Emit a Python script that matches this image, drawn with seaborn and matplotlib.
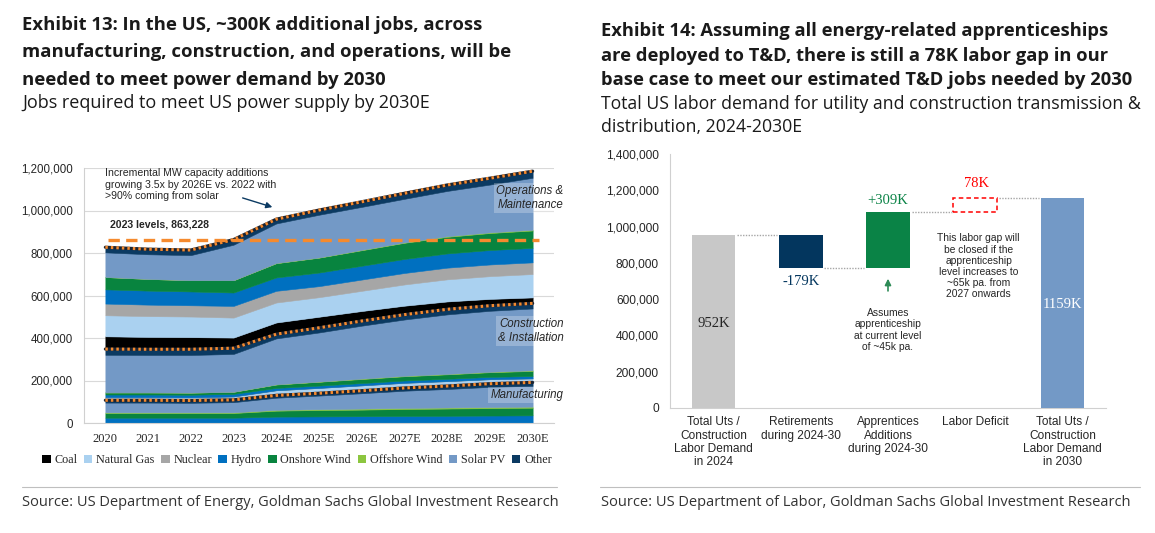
import numpy as np
import pandas as pd
import matplotlib
matplotlib.use("Agg")
import matplotlib.pyplot as plt
from matplotlib.lines import Line2D
from matplotlib.patches import Patch
from matplotlib.ticker import FuncFormatter
import seaborn as sns

# ---- data (thousands of jobs) ----
years = ['2020', '2021', '2022', '2023', '2024E', '2025E', '2026E', '2027E', '2028E', '2029E', '2030E']
techs = ['Coal', 'Natural Gas', 'Nuclear', 'Hydro', 'Onshore Wind', 'Offshore Wind', 'Solar PV', 'Other']
tech_colors = ['#000000', '#AAD1F0', '#A6A6A6', '#0070C0', '#08843F', '#8CC63F', '#7399C6', '#0B3A62']

# Manufacturing
man_coal = [0, 0, 0, 0, 0, 0, 0, 0, 0, 0, 0]
man_gas = [0, 0, 0, 0, 0, 0, 0, 0, 0, 0, 0]
man_nuclear = [0, 0, 0, 0, 0, 0, 0, 0, 0, 0, 0]
man_hydro = [25, 25, 25, 25, 30, 31, 32, 33, 34, 35, 36]
man_onshore = [22, 22, 22, 22, 28, 30, 31, 33, 34, 35, 36]
man_offshore = [3, 3, 3, 3, 4, 4, 5, 5, 5, 5, 5]
man_solar = [46, 46, 45, 48, 57, 64, 72, 81, 87, 95, 98]
man_other = [11, 11, 11, 11, 11, 11, 12, 13, 14, 15, 16]

# Construction & Installation
con_coal = [0, 0, 0, 0, 0, 0, 0, 0, 0, 0, 0]
con_gas = [15, 15, 15, 16, 24, 25, 25, 24, 23, 21, 19]
con_nuclear = [0, 0, 0, 0, 0, 0, 0, 0, 0, 0, 0]
con_hydro = [12, 12, 12, 12, 11, 11, 11, 11, 11, 11, 11]
con_onshore = [10, 10, 10, 10, 16, 18, 19, 20, 21, 22, 24]
con_offshore = [0, 0, 0, 0, 1, 1, 2, 2, 2, 2, 3]
con_solar = [177, 176, 177, 178, 216, 231, 249, 265, 280, 287, 291]
con_other = [27, 27, 27, 27, 20, 22, 22, 23, 24, 24, 24]

# Operations & Maintenance
om_coal = [60, 58, 57, 50, 55, 52, 47, 42, 37, 32, 28]
om_gas = [99, 98, 97, 94, 94, 92, 95, 100, 104, 107, 110]
om_nuclear = [55, 54, 53, 55, 55, 52, 53, 54, 55, 55, 55]
om_hydro = [67, 66, 65, 63, 63, 64, 65, 66, 67, 68, 68]
om_onshore = [58, 55, 53, 58, 67, 70, 73, 76, 78, 80, 82]
om_offshore = [0, 0, 0, 0, 1, 1, 2, 2, 3, 3, 3]
om_solar = [116, 116, 118, 167, 186, 201, 202, 205, 213, 225, 245]
om_other = [24, 24, 24, 24, 20, 22, 24, 26, 28, 30, 31]

level_2023 = 863228

# waterfall (thousands)
wf_labels = ['Total Uts /\nConstruction\nLabor Demand\nin 2024', 'Retirements\nduring 2024-30',
             'Apprentices\nAdditions\nduring 2024-30', 'Labor Deficit',
             'Total Uts /\nConstruction\nLabor Demand\nin 2030']
wf_changes = [952, -179, 309, 78]
wf_final = 1159
wf_colors = ['#C8C8C8', '#03365E', '#0A8346', '#FFFFFF', '#7399C6']

# ---- style ----
sns.set_style('white')
plt.rcParams['font.family'] = ['Liberation Sans', 'DejaVu Sans']
TITLE_FONT = ['Open Sans', 'DejaVu Sans']
SERIF = ['Liberation Serif', 'DejaVu Serif']

W, H = 1155, 533
fig = plt.figure(figsize=(W / 100, H / 100), dpi=100)


def fx(x):
    return x / W


def fy(y):
    return 1 - y / H


# ---- titles ----
left_title = ['Exhibit 13: In the US, ~300K additional jobs, across',
              'manufacturing, construction, and operations, will be',
              'needed to meet power demand by 2030']
for t, y in zip(left_title, [25, 52, 80]):
    fig.text(fx(22), fy(y), t, fontsize=13.3, fontweight='bold', family=TITLE_FONT,
             color='#1A1A1A', va='center')
fig.text(fx(22), fy(103), 'Jobs required to meet US power supply by 2030E', fontsize=13.0,
         family=TITLE_FONT, color='#1A1A1A', va='center')

right_title = ['Exhibit 14: Assuming all energy-related apprenticeships',
               'are deployed to T&D, there is still a 78K labor gap in our',
               'base case to meet our estimated T&D jobs needed by 2030']
for t, y in zip(right_title, [31, 56, 80]):
    fig.text(fx(601), fy(y), t, fontsize=13.2, fontweight='bold', family=TITLE_FONT,
             color='#1A1A1A', va='center')
for t, y in zip(['Total US labor demand for utility and construction transmission &',
                 'distribution, 2024-2030E'], [104, 127]):
    fig.text(fx(601), fy(y), t, fontsize=12.7, family=TITLE_FONT, color='#1A1A1A', va='center')

# sources
fig.add_artist(Line2D([fx(22), fx(557)], [fy(487), fy(487)], color='#BFBFBF', lw=0.8))
fig.add_artist(Line2D([fx(600), fx(1140)], [fy(487), fy(487)], color='#BFBFBF', lw=0.8))
fig.text(fx(22), fy(503), 'Source: US Department of Energy, Goldman Sachs Global Investment Research',
         fontsize=10.5, family=TITLE_FONT, color='#333333', va='center')
fig.text(fx(601), fy(503), 'Source: US Department of Labor, Goldman Sachs Global Investment Research',
         fontsize=10.5, family=TITLE_FONT, color='#333333', va='center')

# ---- left chart: stacked area ----
ax1 = fig.add_axes([fx(84), fy(423), 470 / W, 255 / H])

groups = {
    'Manufacturing': [man_coal, man_gas, man_nuclear, man_hydro, man_onshore, man_offshore, man_solar, man_other],
    'Construction': [con_coal, con_gas, con_nuclear, con_hydro, con_onshore, con_offshore, con_solar, con_other],
    'O&M': [om_coal, om_gas, om_nuclear, om_hydro, om_onshore, om_offshore, om_solar, om_other],
}
frames = []
for g, layers in groups.items():
    df = pd.DataFrame({t: np.array(v) * 1000 for t, v in zip(techs, layers)})
    df.columns = [f'{g} {t}' for t in techs]
    frames.append(df)
area_df = pd.concat(frames, axis=1)
x = np.arange(len(years))

polys = ax1.stackplot(x, area_df.T.values, colors=tech_colors * 3, linewidth=0, zorder=2)
for p, c in zip(polys, tech_colors * 3):
    p.set_edgecolor(c)
    p.set_linewidth(0.4)

# group totals (dotted orange over dark line)
tops = [f.sum(axis=1).values for f in frames]
cum = np.cumsum(tops, axis=0)
for top in cum:
    sns.lineplot(x=x, y=top, color='#1C2533', lw=2.3, ax=ax1, zorder=4)
    sns.lineplot(x=x, y=top, color='#F58A2E', lw=2.2, ax=ax1, zorder=5,
                 linestyle=(0, (0.8, 1.0)), dash_capstyle='butt')

# 2023 level dashed line
ax1.plot([0.05, 10.15], [level_2023, level_2023], color='#F58A2E', lw=2.4,
         dashes=(3.4, 1.9), zorder=6, clip_on=False)
ax1.text(0.1, 932000, f'2023 levels, {level_2023:,}', fontsize=7.6, fontweight='bold',
         va='center', ha='left', zorder=7)

ax1.text(-0.02, 1199000, 'Incremental MW capacity additions\ngrowing 3.5x by 2026E vs. 2022 with\n'
         '>90% coming from solar', fontsize=7.6, va='top', ha='left', linespacing=1.2, zorder=7)
ax1.annotate('', xy=(3.97, 1012000), xytext=(3.15, 1063000),
             arrowprops=dict(arrowstyle='-|>', color='#0B3A62', lw=1.0, mutation_scale=9), zorder=7)

box = dict(facecolor='white', alpha=0.25, edgecolor='none', pad=1.5)
ax1.text(10.72, 1059000, 'Operations &\nMaintenance', fontsize=8.3, style='italic', ha='right',
         va='center', bbox=box, zorder=7, clip_on=False, linespacing=1.15)
ax1.text(10.72, 433000, 'Construction\n& Installation', fontsize=8.3, style='italic', ha='right',
         va='center', bbox=box, zorder=7, clip_on=False, linespacing=1.15)
ax1.text(10.72, 132000, 'Manufacturing', fontsize=8.3, style='italic', ha='right',
         va='center', bbox=box, zorder=7, clip_on=False)

ax1.set_xlim(-0.5, 10.5)
ax1.set_ylim(0, 1200000)
ax1.set_yticks(np.arange(0, 1200001, 200000))
ax1.yaxis.set_major_formatter(FuncFormatter(lambda v, _: f'{v:,.0f}'))
ax1.set_xticks(x)
ax1.set_xticklabels(years, family=SERIF, fontsize=9)
ax1.set_xticks(np.arange(-0.5, 11, 1), minor=True)
ax1.tick_params(axis='x', which='major', length=0, pad=7)
ax1.tick_params(axis='x', which='minor', length=4, color='#D0D0D0', width=0.8)
ax1.tick_params(axis='y', length=4, color='#D0D0D0', labelsize=8.3, pad=4)
ax1.grid(axis='y', color='#D9D9D9', lw=0.8, zorder=0)
ax1.set_axisbelow(True)
for s in ['top', 'right']:
    ax1.spines[s].set_visible(False)
for s in ['left', 'bottom']:
    ax1.spines[s].set_color('#D0D0D0')
    ax1.spines[s].set_linewidth(0.8)
ax1.set_xlabel('')
ax1.set_ylabel('')

handles = [Patch(facecolor=c, edgecolor='none') for c in tech_colors]
leg = fig.legend(handles, techs, loc='center', bbox_to_anchor=(fx(297), fy(460)), ncol=8,
                 frameon=False, prop={'family': SERIF, 'size': 8.7}, handlelength=0.7,
                 handleheight=0.7, handletextpad=0.3, columnspacing=0.55)

# ---- right chart: waterfall ----
ax2 = fig.add_axes([fx(670), fy(408), 436 / W, 254 / H])

levels = np.cumsum([0] + wf_changes)          # running totals: 0, 952, 773, 1082, 1160
bottoms = [0, levels[2], levels[2], levels[3], 0]
tops_wf = [levels[1], levels[1], levels[3], levels[4], wf_final]
wf = pd.DataFrame({'cat': wf_labels, 'top': np.array(tops_wf) * 1000})

sns.barplot(data=wf, x='cat', y='top', hue='cat', palette=wf_colors, legend=False,
            width=0.5, ax=ax2, saturation=1, zorder=3)
for p, b, t in zip(ax2.patches, bottoms, tops_wf):
    p.set_y(b * 1000)
    p.set_height((t - b) * 1000)
    p.set_linewidth(0)
gap = ax2.patches[3]
gap.set_facecolor('none')
gap.set_edgecolor('#FF0000')
gap.set_linestyle((0, (3, 2)))
gap.set_linewidth(1.1)

# connectors
conn = [(0, levels[1]), (1, levels[2]), (2, levels[3]), (3, levels[4])]
for i, lv in conn:
    ax2.plot([i + 0.27, i + 0.73], [lv * 1000, lv * 1000], color='#A6A6A6', lw=1.0,
             ls=(0, (1, 1)), zorder=2)

ax2.text(0, 468000, f'{wf_changes[0]}K', family=SERIF, fontsize=10.5, ha='center', va='center')
ax2.text(1, 696000, f'{wf_changes[1]}K', family=SERIF, fontsize=10.5, ha='center', va='center',
         color='#03365E')
ax2.text(2, 1141000, f'+{wf_changes[2]}K', family=SERIF, fontsize=10.5, ha='center', va='center',
         color='#0A8346')
ax2.text(3.02, 1238000, f'{wf_changes[3]}K', family=SERIF, fontsize=10.5, ha='center', va='center',
         color='#FF0000')
ax2.text(4, 573000, f'{wf_final}K', family=SERIF, fontsize=10.5, ha='center', va='center',
         color='white')

ax2.annotate('', xy=(2, 728000), xytext=(2, 630000),
             arrowprops=dict(arrowstyle='-|>', color='#2E8B57', lw=1.2, mutation_scale=9))
ax2.text(2, 430000, 'Assumes\napprenticeship\nat current level\nof ~45k pa.', fontsize=7.4,
         ha='center', va='center', linespacing=1.15)
ax2.text(3.04, 781000, 'This labor gap will\nbe closed if the\napprenticeship\nlevel increases to\n'
         '~65k pa. from\n2027 onwards', fontsize=7.4, ha='center', va='center', linespacing=1.15)

ax2.set_xlim(-0.5, 4.5)
ax2.set_ylim(0, 1400000)
ax2.set_yticks(np.arange(0, 1400001, 200000))
ax2.yaxis.set_major_formatter(FuncFormatter(lambda v, _: f'{v:,.0f}'))
ax2.set_xticks(range(5))
ax2.set_xticklabels(wf_labels, fontsize=8.6, linespacing=1.15)
ax2.set_xticks(np.arange(-0.5, 5, 1), minor=True)
ax2.tick_params(axis='x', which='major', length=0, pad=6)
ax2.tick_params(axis='x', which='minor', length=5, color='#D0D0D0', width=0.8)
ax2.tick_params(axis='y', length=4, color='#D0D0D0', labelsize=8.6, pad=4)
for s in ['top', 'right']:
    ax2.spines[s].set_visible(False)
for s in ['left', 'bottom']:
    ax2.spines[s].set_color('#D0D0D0')
    ax2.spines[s].set_linewidth(0.8)
ax2.set_xlabel('')
ax2.set_ylabel('')

fig.savefig('out.png', dpi=100)
